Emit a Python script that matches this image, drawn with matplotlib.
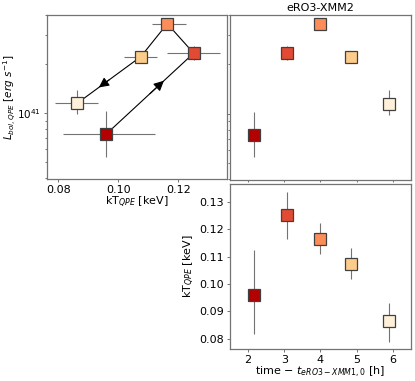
import numpy as np
import matplotlib.pyplot as plt


# eRO3-XMM2: QPE 温度与光度随时间的演化
time_h = np.array([2.17, 3.07, 3.98, 4.84, 5.90])

kt_kev = np.array([0.0959, 0.1251, 0.1163, 0.1075, 0.0863])
kt_low = np.array([0.0817, 0.1163, 0.1111, 0.1019, 0.0788])
kt_high = np.array([0.1123, 0.1337, 0.1224, 0.1130, 0.0932])

lum = np.array([7.43e40, 2.33e41, 3.53e41, 2.22e41, 1.15e41])
lum_low = np.array([5.42e40, 2.11e41, 3.35e41, 2.15e41, 0.986e41])
lum_high = np.array([1.03e41, 2.59e41, 3.72e41, 2.29e41, 1.39e41])

colors = ["#b30000", "#e34a33", "#fc8d59", "#fdcc8a", "#fef0d9"]

FS = 8
SPINE = "0.45"


def style_axes(ax):
    for spine in ax.spines.values():
        spine.set_color(SPINE)
        spine.set_linewidth(0.9)
    ax.tick_params(which="both", colors=SPINE, labelcolor="black",
                   labelsize=FS, width=0.7, pad=1.5)
    ax.tick_params(which="major", length=2.5)
    ax.tick_params(which="minor", length=1.5)


def draw_points(ax, x, y, xerr=None, yerr=None):
    for i in range(len(x)):
        xe = None if xerr is None else [[xerr[0][i]], [xerr[1][i]]]
        ye = None if yerr is None else [[yerr[0][i]], [yerr[1][i]]]
        ax.errorbar(
            x[i], y[i], xerr=xe, yerr=ye,
            fmt="s", ms=9, mfc=colors[i], mec="0.25", mew=0.9,
            ecolor="0.45", elinewidth=0.8, capsize=0, zorder=3,
        )


def add_arrow(ax, i, j):
    # 箭头画在两点连线上（对数 y 轴取对数空间的中间位置）
    def point(f):
        x = kt_kev[i] + f * (kt_kev[j] - kt_kev[i])
        ly = np.log10(lum[i]) + f * (np.log10(lum[j]) - np.log10(lum[i]))
        return x, 10 ** ly

    ax.annotate(
        "", xy=point(0.66), xytext=point(0.5),
        arrowprops=dict(arrowstyle="-|>", color="black", lw=0.8,
                        mutation_scale=15, shrinkA=0, shrinkB=0),
        zorder=2,
    )


fig = plt.figure(figsize=(4.15, 3.81), dpi=100)

ax_lk = fig.add_axes([0.113, 0.530, 0.434, 0.431])
ax_lt = fig.add_axes([0.554, 0.528, 0.436, 0.433])
ax_kt = fig.add_axes([0.554, 0.084, 0.436, 0.433])

# 左上：光度 vs 温度
ax_lk.plot(kt_kev, lum, color="black", lw=0.8, zorder=2)
add_arrow(ax_lk, 0, 1)
add_arrow(ax_lk, 3, 4)
draw_points(ax_lk, kt_kev, lum,
            xerr=[kt_kev - kt_low, kt_high - kt_kev],
            yerr=[lum - lum_low, lum_high - lum])
ax_lk.set_yscale("log")
ax_lk.set_ylim(3.95e40, 4.0e41)
ax_lk.set_xlim(0.0762, 0.1362)
ax_lk.set_xticks([0.08, 0.10, 0.12])
ax_lk.set_xticklabels(["0.08", "0.10", "0.12"])
ax_lk.set_xlabel(r"kT$_{QPE}$ [keV]", fontsize=FS, labelpad=0)
ax_lk.set_ylabel(r"$L_{bol,QPE}$ [$erg$ $s^{-1}$]", fontsize=7.5)
ax_lk.yaxis.set_label_coords(-0.162, 0.5)
style_axes(ax_lk)
ax_lk.tick_params(axis="y", labelsize=7.5)

# 右上：光度 vs 时间
draw_points(ax_lt, time_h, lum, yerr=[lum - lum_low, lum_high - lum])
ax_lt.set_yscale("log")
ax_lt.set_ylim(3.95e40, 4.0e41)
ax_lt.set_xlim(1.5, 6.5)
ax_lt.set_xticks([2, 3, 4, 5, 6])
ax_lt.tick_params(which="both", labelleft=False, labelbottom=False)
ax_lt.set_title("eRO3-XMM2", fontsize=FS, pad=3)
style_axes(ax_lt)
ax_lt.tick_params(axis="x", length=1.5)

# 右下：温度 vs 时间
draw_points(ax_kt, time_h, kt_kev, yerr=[kt_kev - kt_low, kt_high - kt_kev])
ax_kt.set_xlim(1.5, 6.5)
ax_kt.set_ylim(0.0762, 0.1366)
ax_kt.set_xticks([2, 3, 4, 5, 6])
ax_kt.set_yticks([0.08, 0.09, 0.10, 0.11, 0.12, 0.13])
ax_kt.set_xlabel(r"time $-$ $t_{eRO3-XMM1,0}$ [h]", fontsize=FS, labelpad=0)
ax_kt.set_ylabel(r"kT$_{QPE}$ [keV]", fontsize=FS)
ax_kt.yaxis.set_label_coords(-0.18, 0.5)
style_axes(ax_kt)

fig.savefig("out.png", dpi=100)
